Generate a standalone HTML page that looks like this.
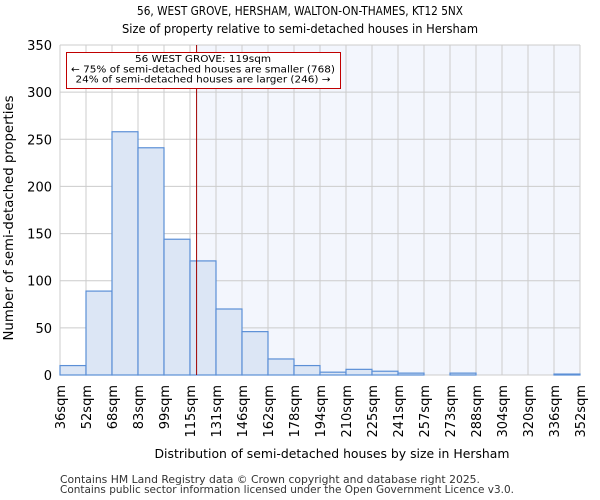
<!DOCTYPE html>
<html><head><meta charset="utf-8"><style>body{margin:0;background:#fff}svg{display:block;font-family:"DejaVu Sans","Liberation Sans",sans-serif}</style></head>
<body>
<svg id="c" width="600" height="500">
<text x="300" y="15" text-anchor="middle" font-size="12" textLength="326" lengthAdjust="spacingAndGlyphs">56, WEST GROVE, HERSHAM, WALTON-ON-THAMES, KT12 5NX</text>
<text x="300" y="33" text-anchor="middle" font-size="12" textLength="356" lengthAdjust="spacingAndGlyphs">Size of property relative to semi-detached houses in Hersham</text>
<text x="332" y="458" text-anchor="middle" font-size="12.5" textLength="355" lengthAdjust="spacingAndGlyphs">Distribution of semi-detached houses by size in Hersham</text>
<text transform="translate(13,218) rotate(-90)" text-anchor="middle" font-size="13" textLength="245" lengthAdjust="spacingAndGlyphs">Number of semi-detached properties</text>
<text x="60" y="483" font-size="10.5" fill="#333" textLength="420" lengthAdjust="spacingAndGlyphs">Contains HM Land Registry data © Crown copyright and database right 2025.</text>
<text x="60" y="493" font-size="10.5" fill="#333" textLength="454" lengthAdjust="spacingAndGlyphs">Contains public sector information licensed under the Open Government Licence v3.0.</text>
<g id="g"></g>
</svg>
<script>
const binLabels=["36sqm","52sqm","68sqm","83sqm","99sqm","115sqm","131sqm","146sqm","162sqm","178sqm","194sqm","210sqm","225sqm","241sqm","257sqm","273sqm","288sqm","304sqm","320sqm","336sqm","352sqm"];
const counts=[10,89,258,241,144,121,70,46,17,10,3,6,4,2,0,2,0,0,0,1];
const yTicks=[0,50,100,150,200,250,300,350];
const propertySize=119;
const binStart=36, binEnd=352;
const L=60,R=580,T=45,B=375,yMax=350;
const ns="http://www.w3.org/2000/svg",g=document.getElementById('g');
const bw=(R-L)/counts.length;
const y=v=>B-v/yMax*(B-T);
const xi=i=>L+i*bw;
const xv=v=>L+(v-binStart)/(binEnd-binStart)*(R-L);
function mk(t,a,p){const e=document.createElementNS(ns,t);for(const k in a)e.setAttribute(k,a[k]);(p||g).appendChild(e);return e;}
const px=xv(propertySize);
let e=mk('rect',{x:px,y:T,width:R-px,height:B-T,fill:'#f3f6fd'});


yTicks.forEach(t=>{
 let l=mk('line',{x1:L,x2:R,y1:y(t),y2:y(t),stroke:'#ccc'});
 
 
 let tx=mk('text',{x:L-8,y:y(t)+5,'text-anchor':'end','font-size':13});
 tx.textContent=t;
 
 
});
binLabels.forEach((s,i)=>{
 let l=mk('line',{x1:xi(i),x2:xi(i),y1:T,y2:B,stroke:'#ccc'});
 
 
 let tx=mk('text',{transform:`translate(${xi(i)+5},${B+10}) rotate(-90)`,'text-anchor':'end','font-size':13});
 tx.textContent=s;
 
 
});
counts.forEach((v,i)=>{
 if(v<=0)return;
 let r=mk('rect',{x:xi(i),y:y(v),width:bw,height:B-y(v),fill:'#dce6f5',stroke:'#5b8fd6','stroke-width':1.2});
 
 
});
e=mk('line',{x1:px,x2:px,y1:T,y2:B,stroke:'#a00000','stroke-width':1});


const ann=mk('g',{});


mk('rect',{x:66.5,y:52.5,width:274,height:36,fill:'#fff',stroke:'#c00000'},ann);
const annW=[136,264,255];
["56 WEST GROVE: 119sqm","← 75% of semi-detached houses are smaller (768)","24% of semi-detached houses are larger (246) →"].forEach((s,i)=>{
 let t=mk('text',{x:203,y:62+i*10.3,'text-anchor':'middle','font-size':10,textLength:annW[i],lengthAdjust:'spacingAndGlyphs'},ann);
 t.textContent=s;
});
</script>
</body></html>
